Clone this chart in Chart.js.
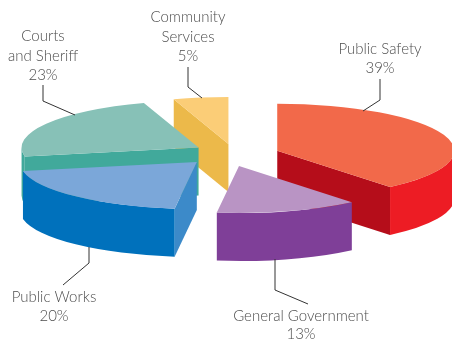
<!DOCTYPE html>
<html>
<head>
<meta charset="utf-8">
<title>Budget by Service Area</title>
<script src="https://cdn.jsdelivr.net/npm/chart.js@4/dist/chart.umd.min.js"></script>
<style>
    html, body { margin: 0; padding: 0; background: #fff; }
    canvas { display: block; }
</style>
</head>
<body>
<canvas id="budgetPie" width="452" height="344"></canvas>
<script>
const categories = ['Public Safety', 'General Government', 'Public Works', 'Courts and Sheriff', 'Community Services'];
const shares = [39, 13, 20, 23, 5];

const topColors = ['#f2694a', '#b994c4', '#7ba7d9', '#87c1b7', '#fbcd77'];
const rimColors = ['#ed1c24', '#7f3f98', '#0071bc', '#41a99b', '#ecb94a'];
const cutColors = ['#b50d1a', '#7f3f98', '#3c8ac9', '#41a99b', '#ecb94a'];

// how far each slice is pulled out from the middle of the pie
const explode = [47, 43, 47, 40, 42];
// small extra shift per slice after the pull, [x, y]
const nudge = [[0, 0], [-6, 0], [-4, -2], [0, -2], [2, 0]];
// back slices first so the front ones cover them
const drawOrder = [4, 0, 3, 2, 1];

const pieMiddle = { x: 233, y: 155 };
const squash = 0.2655;
const depth = 48;

// label lines, leader line points (rim end first)
const calloutLines = [
    ['Public Safety'],
    ['General Government'],
    ['Public Works'],
    ['Courts', 'and Sheriff'],
    ['Community', 'Services']
];
const calloutBoxes = [
    { x: 380, y: 54, step: 19, leader: [[363, 111], [380, 100], [380, 79]] },
    { x: 301, y: 321, step: 18, leader: [[275, 259], [275, 290], [308, 304]] },
    { x: 54, y: 302, step: 19, leader: [[89, 247], [89, 263], [63, 285]] },
    { x: 43, y: 41, step: 19.5, leader: [[75, 115], [43, 101], [43, 85]] },
    { x: 188, y: 22, step: 19.5, leader: [[202, 98], [188, 87], [188, 67]] }
];

const tiltedPie = {
    id: 'tiltedPie',
    beforeDatasetDraw(chart, args) {
        const ctx = chart.ctx;
        const arcs = args.meta.data;

        drawOrder.forEach(i => {
            const arc = arcs[i];
            const r = arc.outerRadius;
            const ry = r * squash;
            const mid = (arc.startAngle + arc.endAngle) / 2;
            const cx = pieMiddle.x + Math.cos(mid) * explode[i] + nudge[i][0];
            const cy = pieMiddle.y + Math.sin(mid) * explode[i] * squash + nudge[i][1];

            const cutWall = (angle) => {
                const px = cx + Math.cos(angle) * r;
                const py = cy + Math.sin(angle) * ry;
                ctx.fillStyle = cutColors[i];
                ctx.beginPath();
                ctx.moveTo(cx, cy);
                ctx.lineTo(px, py);
                ctx.lineTo(px, py + depth);
                ctx.lineTo(cx, cy + depth);
                ctx.closePath();
                ctx.fill();
            };

            // straight cut faces, only the ones turned towards the viewer
            if (Math.cos(arc.endAngle) > 0) cutWall(arc.endAngle);
            if (Math.cos(arc.startAngle) < 0) cutWall(arc.startAngle);

            // curved outer wall, front half of the ellipse only
            const from = Math.max(arc.startAngle, 0);
            const to = Math.min(arc.endAngle, Math.PI);
            if (to > from) {
                ctx.fillStyle = rimColors[i];
                ctx.beginPath();
                ctx.ellipse(cx, cy, r, ry, 0, from, to);
                ctx.ellipse(cx, cy + depth, r, ry, 0, to, from, true);
                ctx.closePath();
                ctx.fill();
            }

            // top face is the library's own arc, flattened
            ctx.save();
            ctx.translate(cx, cy);
            ctx.scale(1, squash);
            ctx.translate(-arc.x, -arc.y);
            arc.draw(ctx);
            ctx.restore();
        });

        return false;
    },
    afterDraw(chart) {
        const ctx = chart.ctx;
        ctx.save();

        ctx.strokeStyle = '#333333';
        ctx.lineWidth = 1;
        calloutBoxes.forEach(box => {
            ctx.beginPath();
            box.leader.forEach((p, n) => {
                if (n === 0) ctx.moveTo(p[0], p[1]);
                else ctx.lineTo(p[0], p[1]);
            });
            ctx.stroke();
        });

        ctx.fillStyle = '#4d4d4d';
        ctx.font = '300 15px Lato, sans-serif';
        ctx.textAlign = 'center';
        ctx.textBaseline = 'alphabetic';
        calloutBoxes.forEach((box, i) => {
            const lines = calloutLines[i].concat(shares[i] + '%');
            lines.forEach((line, n) => ctx.fillText(line, box.x, box.y + n * box.step));
        });

        ctx.restore();
    }
};

new Chart(document.getElementById('budgetPie'), {
    type: 'pie',
    data: {
        labels: categories,
        datasets: [{
            data: shares,
            backgroundColor: topColors,
            borderWidth: 0
        }]
    },
    options: {
        responsive: false,
        animation: false,
        radius: 177,
        plugins: {
            legend: { display: false },
            tooltip: { enabled: false }
        }
    },
    plugins: [tiltedPie]
});
</script>
</body>
</html>
